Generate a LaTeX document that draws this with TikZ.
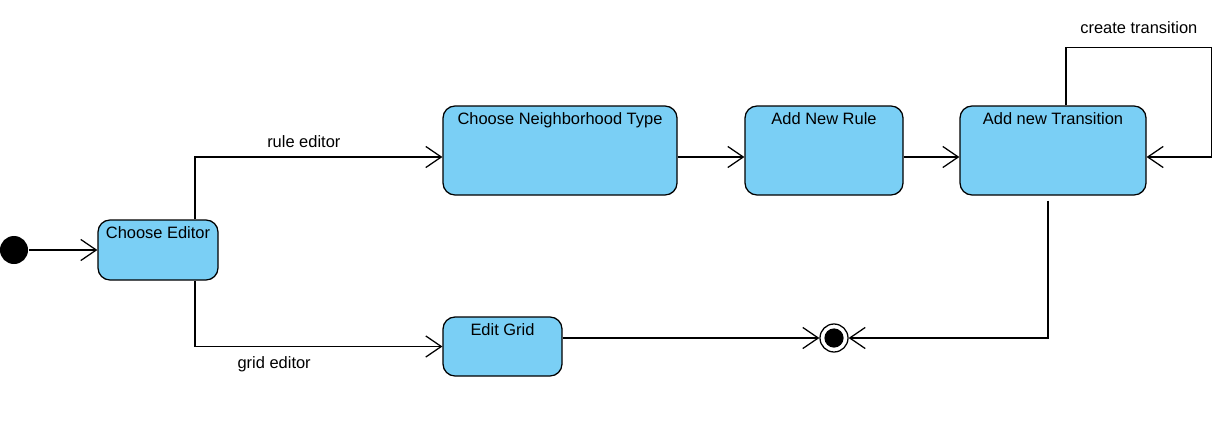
\documentclass[tikz,border=0pt]{standalone}
\usepackage{fontspec}
\setmainfont{Liberation Sans}
\usetikzlibrary{positioning,calc,arrows.meta}
\definecolor{stateColor}{RGB}{122,207,245}
\tikzstyle{diagram} = [x = 0.025cm, y = -0.025cm, line width = 0.9pt, font=\fontsize{11.7}{14}\selectfont]
\tikzstyle{stateStyle} = [draw=black, fill=stateColor, rounded corners = .3cm, line width = 0.9pt, inner sep = 0pt]
\tikzstyle{stateText} = [anchor=north, inner sep = 4.4pt]
\tikzstyle{initialStyle} = [circle, fill=black, inner sep = 0pt, minimum size = .7cm]
\tikzstyle{finalStyle} = [circle, draw=black, fill=white, inner sep = 0pt, minimum size = .7cm, line width = 0.9pt]
\tikzstyle{flow} = [-{Straight Barb[length=11pt, width=15pt, line width=0.9pt]}]
\newcommand{\stateNode}[6]{\node [stateStyle, minimum width = #4*0.025cm, minimum height = #5*0.025cm,
  label={[stateText]north:#6}] (#1) at (#2,#3) {};}

\begin{document}
\begin{tikzpicture}[diagram]
  \useasboundingbox (0,0) rectangle (1229,427);
  \node [initialStyle] (start) at (14,250) {};
  \stateNode{chooseEditor}{158}{250}{120}{60}{Choose Editor}
  \stateNode{chooseType}{560}{150.5}{234}{89}{Choose Neighborhood Type}
  \stateNode{addRule}{824}{150.5}{158}{89}{Add New Rule}
  \stateNode{addTransition}{1053}{150.5}{186}{89}{Add new Transition}
  \stateNode{editGrid}{502.5}{346.5}{119}{59}{Edit Grid}
  \node [finalStyle] (finish) at (834,338) {};
  \fill (finish.center) circle (.24cm);
  % transitions
  \draw [flow] (start) -- (chooseEditor);
  \draw [flow] ($(chooseEditor.north)+(37,0)$) |- ($(chooseType.west)+(0,6.5)$) node [pos=0.72, above=3pt] {rule editor};
  \draw [flow] ($(chooseEditor.south)+(37,0)$) |- (editGrid.west) node [pos=0.66, below=3.5pt] {grid editor};
  \draw [flow] ($(chooseType.east)+(0,6.5)$) -- ($(addRule.west)+(0,6.5)$);
  \draw [flow] ($(addRule.east)+(0,6.5)$) -- ($(addTransition.west)+(0,6.5)$);
  \coordinate (loopStart) at ($(addTransition.north)+(13,0)$);
  \coordinate (loopEnd) at ($(addTransition.east)+(0,6.5)$);
  \coordinate (loopRight) at ($(loopEnd)+(65,0)$);
  \coordinate (loopCorner) at ($(loopStart)+(0,-58)$);
  \draw [flow] (loopStart) -- (loopCorner) -- (loopCorner -| loopRight) node [midway, above=6pt] {create transition} -- (loopRight) -- (loopEnd);
  \draw [flow] ($(addTransition.south)+(-5,5)$) |- (finish);
  \draw [flow] ($(editGrid.east)+(0,-8.5)$) -- (finish);
\end{tikzpicture}
\end{document}
